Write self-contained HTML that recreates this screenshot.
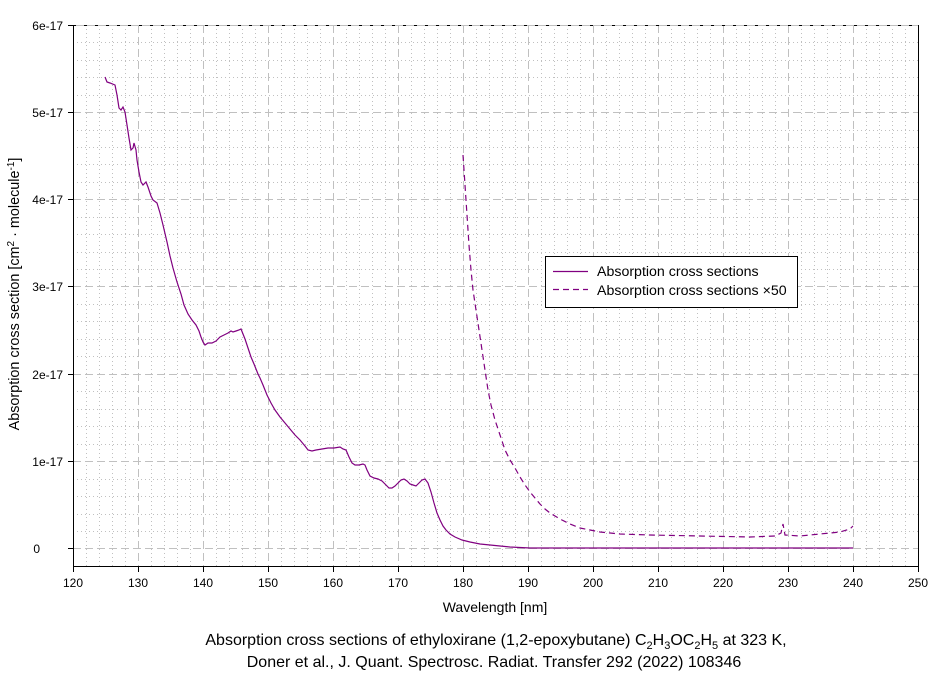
<!DOCTYPE html>
<html><head><meta charset="utf-8"><style>
body{margin:0;background:#fff;width:944px;height:676px;overflow:hidden}
text{font-family:"Liberation Sans",sans-serif;fill:#000}
</style></head><body>
<svg width="944" height="676" xmlns="http://www.w3.org/2000/svg">
<g stroke="#c0c0c0" stroke-width="1" stroke-dasharray="1,3" fill="none">
<path d="M86.5 25V566M99.5 25V566M112.5 25V566M125.5 25V566M151.5 25V566M164.5 25V566M177.5 25V566M190.5 25V566M216.5 25V566M229.5 25V566M242.5 25V566M255.5 25V566M281.5 25V566M294.5 25V566M307.5 25V566M320.5 25V566M346.5 25V566M359.5 25V566M372.5 25V566M385.5 25V566M411.5 25V566M424.5 25V566M437.5 25V566M450.5 25V566M476.5 25V566M489.5 25V566M502.5 25V566M515.5 25V566M541.5 25V566M554.5 25V566M567.5 25V566M580.5 25V566M606.5 25V566M619.5 25V566M632.5 25V566M645.5 25V566M671.5 25V566M684.5 25V566M697.5 25V566M710.5 25V566M736.5 25V566M749.5 25V566M762.5 25V566M775.5 25V566M801.5 25V566M814.5 25V566M827.5 25V566M840.5 25V566M866.5 25V566M879.5 25V566M892.5 25V566M905.5 25V566"/>
<path d="M73 42.5H919M73 60.5H919M73 77.5H919M73 95.5H919M73 130.5H919M73 147.5H919M73 164.5H919M73 182.5H919M73 217.5H919M73 234.5H919M73 252.5H919M73 269.5H919M73 304.5H919M73 321.5H919M73 339.5H919M73 356.5H919M73 391.5H919M73 409.5H919M73 426.5H919M73 444.5H919M73 479.5H919M73 496.5H919M73 514.5H919M73 531.5H919"/>
</g>
<g stroke="#c0c0c0" stroke-width="1" stroke-dasharray="8,4" fill="none">
<path d="M138.5 25V566M203.5 25V566M268.5 25V566M333.5 25V566M398.5 25V566M463.5 25V566M528.5 25V566M593.5 25V566M658.5 25V566M723.5 25V566M788.5 25V566M853.5 25V566"/>
<path d="M73 112.5H919M73 199.5H919M73 286.5H919M73 374.5H919M73 461.5H919M73 548.5H919"/>
</g>
<path d="M73 25.5H919" stroke="#c0c0c0"/>
<path d="M73 25.5H919" stroke="#000" stroke-dasharray="3,8"/>
<path d="M73.5 25V566.5H918.5V25" stroke="#000" fill="none"/>
<g stroke="#000"><path d="M68 25.5H73M68 112.5H73M68 199.5H73M68 286.5H73M68 374.5H73M68 461.5H73M68 548.5H73"/>
<path d="M73.5 566V572M138.5 566V572M203.5 566V572M268.5 566V572M333.5 566V572M398.5 566V572M463.5 566V572M528.5 566V572M593.5 566V572M658.5 566V572M723.5 566V572M788.5 566V572M853.5 566V572M918.5 566V572"/></g>
<g font-size="12" text-anchor="end">
<text x="63" y="30">6e-17</text><text x="63" y="117">5e-17</text><text x="63" y="204">4e-17</text><text x="63" y="291">3e-17</text><text x="63" y="379">2e-17</text><text x="63" y="466">1e-17</text><text x="40" y="553">0</text>
</g>
<g font-size="12" text-anchor="middle">
<text x="73" y="587">120</text><text x="138" y="587">130</text><text x="203" y="587">140</text><text x="268" y="587">150</text><text x="333" y="587">160</text><text x="398" y="587">170</text><text x="463" y="587">180</text><text x="528" y="587">190</text><text x="593" y="587">200</text><text x="658" y="587">210</text><text x="723" y="587">220</text><text x="788" y="587">230</text><text x="853" y="587">240</text><text x="918" y="587">250</text>
<text x="495" y="612" font-size="14">Wavelength [nm]</text>
</g>
<text font-size="14.4" transform="translate(19,294) rotate(-90)" text-anchor="middle">Absorption cross section [cm<tspan font-size="10" dy="-5">2</tspan><tspan dy="5"> · molecule</tspan><tspan font-size="10" dy="-5">-1</tspan><tspan dy="5">]</tspan></text>
<g font-size="16" text-anchor="middle">
<text x="496" y="645">Absorption cross sections of ethyloxirane (1,2-epoxybutane) C<tspan font-size="11" dy="4">2</tspan><tspan dy="-4">H</tspan><tspan font-size="11" dy="4">3</tspan><tspan dy="-4">OC</tspan><tspan font-size="11" dy="4">2</tspan><tspan dy="-4">H</tspan><tspan font-size="11" dy="4">5</tspan><tspan dy="-4"> at 323 K,</tspan></text>
<text x="494" y="667">Doner et al., J. Quant. Spectrosc. Radiat. Transfer 292 (2022) 108346</text>
</g>
<polyline fill="none" stroke="#800080" stroke-width="1.2" points="105,77 107,82 110,83 115,85 117,95 119,108 121,110 123,107 125,112 127,125 129,138 131,150 133,148 134,143 136,150 137,160 139,172 141,182 143,185 146,182 148,187 151,196 153,200 157,203 160,213 163,225 167,242 170,256 173,268 177,282 181,294 184,305 188,314 192,320 196,325 199,331 201,337 203,342 205,345 208,343 212,343 216,341 220,337 224,335 228,333 231,331 233,332 236,331 239,330 241,329 243,334 245,339 248,348 251,357 254,364 258,374 260,378 263,385 267,395 271,403 275,410 280,417 285,423 290,429 295,435 300,440 305,446 308,450 312,451 316,450 322,449 328,448 334,448 340,447 343,449 346,450 349,457 352,463 355,465 359,465 363,464 365,465 367,470 370,476 374,478 378,479 382,481 386,485 389,488 392,488 395,486 398,483 401,480 404,479 407,481 410,484 413,485 416,486 419,483 422,480 425,479 428,483 431,492 434,503 437,513 440,520 443,526 446,530 450,534 455,537 462,540 470,542 480,544 490,545 500,546 510,547 530,548 853,548"/>
<polyline fill="none" stroke="#800080" stroke-width="1.2" stroke-dasharray="6,4" points="463,155 465,185 467,215 469,245 471,270 473,290 476,310 479,330 482,350 485,370 488,390 491,405 495,420 500,435 505,450 510,460 515,468 520,477 525,485 530,492 535,498 540,504 545,509 550,513 555,516 560,519 570,524 580,528 590,530 600,532 620,534 650,535 700,536 750,537 775,536 781,533 783,524 785,535 800,536 820,534 840,532 850,529 853,526"/>
<rect x="545.5" y="256.5" width="252" height="51" fill="#fff" stroke="#000"/>
<path d="M553 271.5H588" stroke="#800080" stroke-width="1.2"/>
<path d="M553 289.5H588" stroke="#800080" stroke-width="1.2" stroke-dasharray="6,4"/>
<g font-size="14.2"><text x="597" y="276">Absorption cross sections</text><text x="597" y="295">Absorption cross sections ×50</text></g>
</svg>
</body></html>
